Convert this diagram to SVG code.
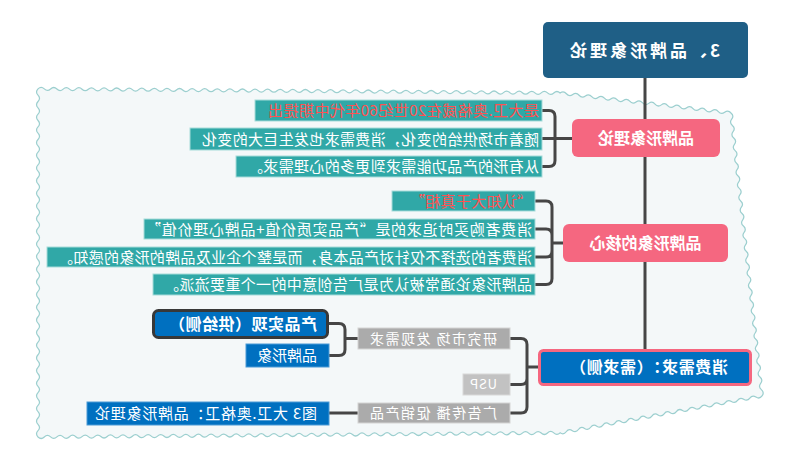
<svg xmlns="http://www.w3.org/2000/svg" width="800" height="459" viewBox="0 0 800 459">
<style>
.t{font-family:"Noto Sans CJK SC","Noto Sans",sans-serif;fill:#fff}
.b{font-weight:bold}
.s15{font-size:15px}
.s14{font-size:14px}
.s16{font-size:16px}
.red{fill:#ff5252}
.conn{fill:none;stroke:#464646;stroke-width:3;stroke-linecap:round;stroke-linejoin:round}
.teal{fill:#30a8a7;stroke:#a6dbda;stroke-width:1}
.pink{fill:#f56780}
.gray{fill:#ababab;stroke:#d4d4d4;stroke-width:1}
.blue{fill:#0070c0;stroke:#4a9ad6;stroke-width:1}
</style>
<rect width="800" height="459" fill="#fff"/>
<g transform="matrix(-1 0 0 1 800 0)">
<path id="cloud" fill="#f4f8f9" stroke="#9ccfcf" stroke-width="1.2" d="M69 113q2.82 -3.35 6.33 -.74
t6.33 -.74t6.33 -.74t6.33 -.74t6.33 -.74t6.33 -.74t6.33 -.74t6.33 -.74t6.33 -.74t6.33 -.74t6.33 -.74
t6.33 -.74t6.33 -.74t6.33 -.74t6.33 -.74t6.33 -.74t6.33 -.74t6.33 -.74t6.33 -.74t6.33 -.74t6.33 -.74
t6.33 -.74t6.33 -.74t6.33 -.74t6.33 -.74t6.33 -.74t6.33 -.74
q3.14 -3.02 6.29 -.05
t6.29 -.05t6.29 -.05t6.29 -.05t6.29 -.05t6.29 -.05t6.29 -.05t6.29 -.05t6.29 -.05t6.29 -.05t6.29 -.05
t6.29 -.05t6.29 -.05t6.29 -.05t6.29 -.05t6.29 -.05t6.29 -.05t6.29 -.05t6.29 -.05t6.29 -.05t6.29 -.05
t6.29 -.05t6.29 -.05t6.29 -.05t6.29 -.05t6.29 -.05t6.29 -.05t6.29 -.05t6.29 -.05t6.29 -.05t6.29 -.05
t6.29 -.05t6.29 -.05t6.29 -.05t6.29 -.05t6.29 -.05t6.29 -.05t6.29 -.05t6.29 -.05t6.29 -.05t6.29 -.05
t6.29 -.05t6.29 -.05t6.29 -.05t6.29 -.05t6.29 -.05t6.29 -.05t6.29 -.05t6.29 -.05t6.29 -.05t6.29 -.05
t6.29 -.05t6.29 -.05t6.29 -.05t6.29 -.05t6.29 -.05t6.29 -.05t6.29 -.05t6.29 -.05t6.29 -.05t6.29 -.05
t6.29 -.05t6.29 -.05t6.29 -.05t6.29 -.05t6.29 -.05t6.29 -.05t6.29 -.05t6.29 -.05t6.29 -.05t6.29 -.05
t6.29 -.05t6.29 -.05t6.29 -.05t6.29 -.05t6.29 -.05t6.29 -.05t6.29 -.05t6.29 -.05t6.29 -.05t6.29 -.05
t6.29 -.05t6.29 -.05
q3 3.16 0 6.33
t0 6.33t0 6.33t0 6.33t0 6.33t0 6.33t0 6.33t0 6.33t0 6.33t0 6.33t0 6.33
t0 6.33t0 6.33t0 6.33t0 6.33t0 6.33t0 6.33t0 6.33t0 6.33t0 6.33t0 6.33
t0 6.33t0 6.33t0 6.33t0 6.33t0 6.33t0 6.33t0 6.33t0 6.33t0 6.33t0 6.33
t0 6.33t0 6.33t0 6.33t0 6.33t0 6.33t0 6.33t0 6.33t0 6.33t0 6.33t0 6.33
t0 6.33t0 6.33t0 6.33t0 6.33t0 6.33t0 6.33t0 6.33t0 6.33t0 6.33t0 6.33
t0 6.33t0 6.33t0 6.33t0 6.33
q-3.14 2.98 -6.29 -.05
t-6.29 -.05t-6.29 -.05t-6.29 -.05t-6.29 -.05t-6.29 -.05t-6.29 -.05t-6.29 -.05t-6.29 -.05t-6.29 -.05t-6.29 -.05
t-6.29 -.05t-6.29 -.05t-6.29 -.05t-6.29 -.05t-6.29 -.05t-6.29 -.05t-6.29 -.05t-6.29 -.05t-6.29 -.05t-6.29 -.05
t-6.29 -.05t-6.29 -.05t-6.29 -.05t-6.29 -.05t-6.29 -.05t-6.29 -.05t-6.29 -.05t-6.29 -.05t-6.29 -.05t-6.29 -.05
t-6.29 -.05t-6.29 -.05t-6.29 -.05t-6.29 -.05t-6.29 -.05t-6.29 -.05t-6.29 -.05t-6.29 -.05t-6.29 -.05t-6.29 -.05
t-6.29 -.05t-6.29 -.05t-6.29 -.05t-6.29 -.05t-6.29 -.05t-6.29 -.05t-6.29 -.05t-6.29 -.05t-6.29 -.05t-6.29 -.05
t-6.29 -.05t-6.29 -.05t-6.29 -.05t-6.29 -.05t-6.29 -.05t-6.29 -.05t-6.29 -.05t-6.29 -.05t-6.29 -.05t-6.29 -.05
t-6.29 -.05t-6.29 -.05t-6.29 -.05t-6.29 -.05t-6.29 -.05t-6.29 -.05t-6.29 -.05t-6.29 -.05t-6.29 -.05t-6.29 -.05
t-6.29 -.05t-6.29 -.05t-6.29 -.05t-6.29 -.05t-6.29 -.05t-6.29 -.05t-6.29 -.05t-6.29 -.05t-6.29 -.05t-6.29 -.05
t-6.29 -.05t-6.29 -.05
q-3.6 2.39 -6.12 -1.12
t-6.12 -1.12t-6.12 -1.12t-6.12 -1.12t-6.12 -1.12t-6.12 -1.12t-6.12 -1.12t-6.12 -1.12t-6.12 -1.12t-6.12 -1.12t-6.12 -1.12
t-6.12 -1.12t-6.12 -1.12t-6.12 -1.12t-6.12 -1.12t-6.12 -1.12t-6.12 -1.12t-6.12 -1.12t-6.12 -1.12t-6.12 -1.12t-6.12 -1.12
t-6.12 -1.12t-6.12 -1.12t-6.12 -1.12t-6.12 -1.12t-6.12 -1.12t-6.12 -1.12t-6.12 -1.12t-6.12 -1.12t-6.12 -1.12t-6.12 -1.12
t-6.12 -1.12t-6.12 -1.12
q-2.64 -3.47 .69 -6.29
t.69 -6.29t.69 -6.29t.69 -6.29t.69 -6.29t.69 -6.29t.69 -6.29t.69 -6.29t.69 -6.29t.69 -6.29t.69 -6.29
t.69 -6.29t.69 -6.29t.69 -6.29t.69 -6.29t.69 -6.29t.69 -6.29t.69 -6.29t.69 -6.29t.69 -6.29t.69 -6.29
t.69 -6.29t.69 -6.29t.69 -6.29t.69 -6.29t.69 -6.29t.69 -6.29t.69 -6.29t.69 -6.29t.69 -6.29t.69 -6.29
t.69 -6.29t.69 -6.29t.69 -6.29t.69 -6.29t.69 -6.29t.69 -6.29t.69 -6.29t.69 -6.29t.69 -6.29t.69 -6.29
t.69 -6.29t.69 -6.29t.69 -6.29t.69 -6.29Z"/>

<g id="connectors" class="conn">
<path d="M155 78V350"/>
<path d="M228 138.5H258M245 138.5V116.5Q245 110.5 251 110.5H258M245 138.5V160.5Q245 166.5 251 166.5H258"/>
<path d="M237 243H248M248 243V207Q248 201 254 201H265M248 243V235Q248 229 254 229H265M248 243V251Q248 257 254 257H265M248 243V278.5Q248 284.5 254 284.5H265"/>
<path d="M262 367H273M273 367V344.5Q273 338.5 279 338.5H290M273 367V378.5Q273 384.5 279 384.5H290M273 367V407Q273 413 279 413H290"/>
<path d="M442 338.5H455M455 338.5V329.5Q455 323.5 461 323.5H471M455 338.5V349.5Q455 355.5 461 355.5H471"/>
<path d="M442 413H471"/>
</g>

<g id="root">
<rect x="52" y="22" width="205" height="56" rx="5" fill="#1f5f86"/>
<text class="t b" x="155" y="56.5" font-size="17" text-anchor="middle" textLength="150">3、品牌形象理论</text>
</g>

<g id="n-theory">
<rect class="pink" x="80" y="119" width="148" height="38" rx="6"/>
<text class="t b s16" x="154" y="144" text-anchor="middle">品牌形象理论</text>
</g>
<g id="n-core">
<rect class="pink" x="72" y="224" width="165" height="38" rx="6"/>
<text class="t b s16" x="154.5" y="249" text-anchor="middle">品牌形象的核心</text>
</g>
<g id="n-demand">
<rect x="49.5" y="350.5" width="211" height="34" rx="4" fill="#0070c0" stroke="#f56780" stroke-width="3"/>
<text class="t b s16" x="72" y="373" textLength="158">消费需求：（需求侧）</text>
</g>

<g id="a1"><rect class="teal" x="258" y="100" width="287" height="21"/>
<text class="t s15 red" x="261" y="116" textLength="271">是大卫.奥格威在20世纪60年代中期提出</text></g>
<g id="a2"><rect class="teal" x="258" y="128" width="352" height="22"/>
<text class="t s15" x="261" y="144.5" textLength="337">随着市场供给的变化，消费需求也发生巨大的变化</text></g>
<g id="a3"><rect class="teal" x="258" y="156" width="306" height="21"/>
<text class="t s15" x="261" y="172" textLength="291">从有形的产品功能需求到更多的心理需求。</text></g>

<g id="b1"><rect class="teal" x="265" y="191" width="143" height="20"/>
<text class="t s15 red" x="268" y="206.5" textLength="122">“认知大于真相”</text></g>
<g id="b2"><rect class="teal" x="265" y="219" width="391" height="20"/>
<text class="t s15" x="268" y="234.5" textLength="386">消费者购买时追求的是“产品实质价值+品牌心理价值”</text></g>
<g id="b3"><rect class="teal" x="265" y="247" width="488" height="20"/>
<text class="t s15" x="268" y="262.5" textLength="474">消费者的选择不仅针对产品本身，而是整个企业及品牌的形象的感知。</text></g>
<g id="b4"><rect class="teal" x="265" y="274" width="382" height="21"/>
<text class="t s15" x="268" y="290" textLength="368">品牌形象论通常被认为是广告创意中的一个重要流派。</text></g>

<g id="c1"><rect class="gray" x="290" y="328" width="152" height="21"/>
<text class="t s14" x="303" y="343.5" textLength="127">研究市场 发现需求</text></g>
<g id="c2"><rect x="290" y="374" width="47" height="21" fill="#c2c2c2" stroke="#d8d8d8"/>
<text class="t" x="303" y="389" font-size="13" textLength="27">USP</text></g>
<g id="c3"><rect class="gray" x="290" y="403" width="152" height="20"/>
<text class="t s14" x="303" y="418" textLength="127">广告传播 促销产品</text></g>

<g id="d1"><rect x="472.5" y="310.5" width="174" height="27" rx="5" fill="#0070c0" stroke="#383838" stroke-width="3"/>
<text class="t b s16" x="483" y="329.5" textLength="148">产品实现（供给侧）</text></g>
<g id="d2"><rect class="blue" x="471" y="344" width="83" height="23"/>
<text class="t s15" x="483" y="361" textLength="60">品牌形象</text></g>
<g id="d3"><rect class="blue" x="471" y="402" width="242" height="23"/>
<text class="t s15" x="483" y="419" textLength="222">图3 大卫.奥格卫：品牌形象理论</text></g>
</g>
</svg>
